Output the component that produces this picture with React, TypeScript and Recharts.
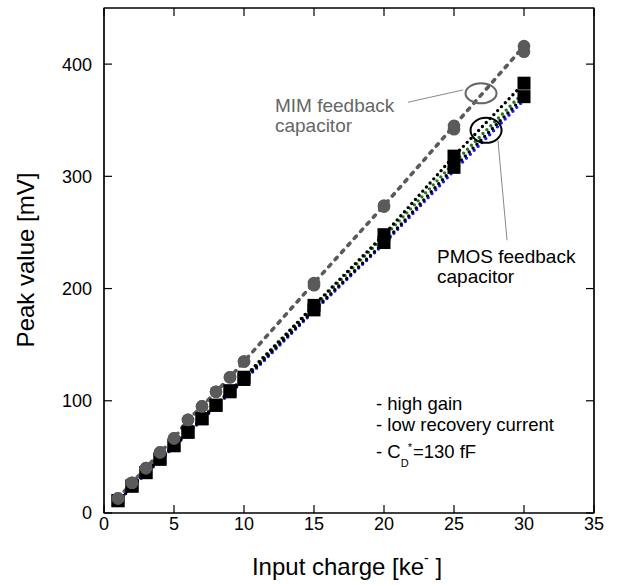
import React from 'react';
import { ComposedChart, Line, XAxis, YAxis, ReferenceDot, ReferenceLine, ReferenceArea, Label } from 'recharts';

// Input charge [ke-]
const charge = [1, 2, 3, 4, 5, 6, 7, 8, 9, 10, 15, 20, 25, 30];
// MIM feedback capacitor peak values [mV]
const mimPeakA = [13, 27, 40, 54, 66.5, 83, 95, 108, 121, 135, 205, 274, 345, 416];
const mimPeakB = [13, 27, 40, 54, 66.5, 83, 95, 108, 121, 135, 203, 273, 342, 411];
// PMOS feedback capacitor peak values [mV]
const pmosPeakA = [11, 24, 36, 48, 60, 72, 84, 96, 109, 121, 185, 248, 318, 383];
const pmosPeakB = [11, 24, 36, 48, 60, 72, 84, 96, 108, 119, 181, 241, 308, 371];
const pmosGreen = [12, 25, 37, 49, 61, 73, 85, 97, 109, 120, 184, 246, 312, 375];
const pmosBlue = [10, 23, 35, 47, 59, 71, 83, 95, 107, 118, 180, 240, 305, 368];

const xTicks = [0, 5, 10, 15, 20, 25, 30, 35];
const yTicks = [0, 100, 200, 300, 400];
const xMax = 35;
const yMax = 450;

const rows = charge.map((x, i) => ({
  x,
  mimA: mimPeakA[i],
  mimB: mimPeakB[i],
  pA: pmosPeakA[i],
  pB: pmosPeakB[i],
  pG: pmosGreen[i],
  pBl: pmosBlue[i],
}));

const FONT = "'Liberation Sans', Arial, Helvetica, sans-serif";
const GRAY = '#5a5a5a';

// plot-area frame (layout only)
const W = 632;
const H = 585;
const M = { top: 8, right: 38, left: 44, bottom: 42 };
const Y_AXIS_W = 60;
const X_AXIS_H = 30;
const PL = M.left + Y_AXIS_W;
const PT = M.top;
const PW = W - PL - M.right;
const PH = H - PT - M.bottom - X_AXIS_H;

const circleDot = (color: string, tag: string) => (props: any) => (
  <circle key={`${tag}-${props.index}`} cx={props.cx} cy={props.cy} r={6.3} fill={color} stroke="none" />
);
const squareDot = (tag: string) => (props: any) => (
  <rect key={`${tag}-${props.index}`} x={props.cx - 6.5} y={props.cy - 6.5} width={13} height={13} fill="#000" stroke="none" />
);

function Frame() {
  return (
    <svg width={W} height={H} style={{ position: 'absolute', left: 0, top: 0, pointerEvents: 'none', zIndex: 2 }}>
      <line x1={PL} y1={PT} x2={PL + PW} y2={PT} stroke="#000" strokeWidth={1.2} />
      <line x1={PL + PW} y1={PT} x2={PL + PW} y2={PT + PH} stroke="#000" strokeWidth={1.2} />
      {xTicks.map((t) => {
        const x = PL + (t / xMax) * PW;
        return <line key={`tt-${t}`} x1={x} y1={PT} x2={x} y2={PT + 8} stroke="#000" strokeWidth={1.2} />;
      })}
      {yTicks.map((t) => {
        const y = PT + PH - (t / yMax) * PH;
        return <line key={`rt-${t}`} x1={PL + PW} y1={y} x2={PL + PW - 8} y2={y} stroke="#000" strokeWidth={1.2} />;
      })}
    </svg>
  );
}

export default function App() {
  return (
    <div style={{ position: 'absolute', left: 0, top: 0, width: W, height: H, background: '#fff' }}>
      <div style={{ position: 'absolute', left: 0, top: 0, zIndex: 1 }}>
        <ComposedChart width={W} height={H} data={rows} margin={M} style={{ fontFamily: FONT }}>
          <XAxis
            dataKey="x"
            type="number"
            domain={[0, xMax]}
            ticks={xTicks}
            allowDataOverflow
            height={X_AXIS_H}
            tickSize={-8}
            tickMargin={12}
            stroke="#000"
            strokeWidth={1.2}
            tick={{ fill: '#000', fontSize: 18, fontFamily: FONT }}
          >
            <Label
              content={() => (
                <text x={347} y={575} textAnchor="middle" fontSize={24} fontFamily={FONT} fill="#000">
                  <tspan>Input charge [ke</tspan>
                  <tspan dy={-12} fontSize={14}>-</tspan>
                  <tspan dy={12}> ]</tspan>
                </text>
              )}
            />
          </XAxis>
          <YAxis
            type="number"
            domain={[0, yMax]}
            ticks={yTicks}
            allowDataOverflow
            width={Y_AXIS_W}
            tickSize={-8}
            tickMargin={20}
            stroke="#000"
            strokeWidth={1.2}
            tick={{ fill: '#000', fontSize: 18, fontFamily: FONT }}
          >
            <Label
              content={() => (
                <text
                  x={34}
                  y={260}
                  transform="rotate(-90, 34, 260)"
                  textAnchor="middle"
                  fontSize={24}
                  fontFamily={FONT}
                  fill="#000"
                >
                  Peak value [mV]
                </text>
              )}
            />
          </YAxis>

          {/* frame around plot area */}
          <ReferenceArea x1={0} x2={xMax} y1={0} y2={yMax} fill="none" fillOpacity={0} stroke="#000" strokeWidth={1.2} ifOverflow="visible" />

          {/* PMOS lines */}
          <Line dataKey="pBl" stroke="#1a1aff" strokeWidth={3.4} strokeDasharray="0 5.5" strokeLinecap="round" dot={false} isAnimationActive={false} />
          <Line dataKey="pG" stroke="#1d7a1d" strokeWidth={3.4} strokeDasharray="0 5.5" strokeLinecap="round" dot={false} isAnimationActive={false} />
          <Line dataKey="pB" stroke="#000" strokeWidth={3.4} strokeDasharray="0 5.5" strokeLinecap="round" dot={false} isAnimationActive={false} />
          <Line dataKey="pA" stroke="#000" strokeWidth={3.4} strokeDasharray="0 5.5" strokeLinecap="round" dot={false} isAnimationActive={false} />
          {/* PMOS markers */}
          <Line dataKey="pB" stroke="none" strokeWidth={0} dot={squareDot('sb')} activeDot={false} isAnimationActive={false} />
          <Line dataKey="pA" stroke="none" strokeWidth={0} dot={squareDot('sa')} activeDot={false} isAnimationActive={false} />

          {/* MIM line and markers */}
          <Line dataKey="mimA" stroke={GRAY} strokeWidth={3.6} strokeDasharray="3 6.5" strokeLinecap="round" dot={false} isAnimationActive={false} />
          <Line dataKey="mimB" stroke="none" strokeWidth={0} dot={circleDot(GRAY, 'mb')} activeDot={false} isAnimationActive={false} />
          <Line dataKey="mimA" stroke="none" strokeWidth={0} dot={circleDot(GRAY, 'ma')} activeDot={false} isAnimationActive={false} />

          {/* Annotations */}
          <ReferenceLine segment={[{ x: 21.71, y: 366 }, { x: 25.64, y: 377 }]} stroke="#888" strokeWidth={1} />
          <ReferenceLine segment={[{ x: 28.14, y: 332 }, { x: 28.79, y: 243 }]} stroke="#888" strokeWidth={1} />
          <ReferenceDot
            x={26.93}
            y={374}
            shape={(p: any) => <ellipse cx={p.cx} cy={p.cy} rx={15.5} ry={10} fill="none" stroke="#666" strokeWidth={2} />}
          />
          <ReferenceDot
            x={27.29}
            y={341}
            shape={(p: any) => <ellipse cx={p.cx} cy={p.cy} rx={15.5} ry={12.5} fill="none" stroke="#000" strokeWidth={2} />}
          />
          <ReferenceDot
            x={12.21}
            y={357.2}
            shape={(p: any) => (
              <text x={p.cx} y={p.cy} fontSize={19} fontFamily={FONT} fill="#666">
                <tspan x={p.cx}>MIM feedback</tspan>
                <tspan x={p.cx} dy={20}>capacitor</tspan>
              </text>
            )}
          />
          <ReferenceDot
            x={23.79}
            y={222.7}
            shape={(p: any) => (
              <text x={p.cx} y={p.cy} fontSize={19} fontFamily={FONT} fill="#000">
                <tspan x={p.cx}>PMOS feedback</tspan>
                <tspan x={p.cx} dy={20}>capacitor</tspan>
              </text>
            )}
          />
          <ReferenceDot
            x={19.43}
            y={91.8}
            shape={(p: any) => (
              <text x={p.cx} y={p.cy} fontSize={18.5} fontFamily={FONT} fill="#000">
                <tspan x={p.cx}>- high gain</tspan>
                <tspan x={p.cx} dy={21}>- low recovery current</tspan>
                <tspan x={p.cx} dy={27}>- C</tspan>
                <tspan dy={9.5} fontSize={11}>D</tspan>
                <tspan dy={-16.5} dx={-1} fontSize={11}>*</tspan>
                <tspan dy={7} dx={1}>=130 fF</tspan>
              </text>
            )}
          />
        </ComposedChart>
      </div>
      <Frame />
    </div>
  );
}
